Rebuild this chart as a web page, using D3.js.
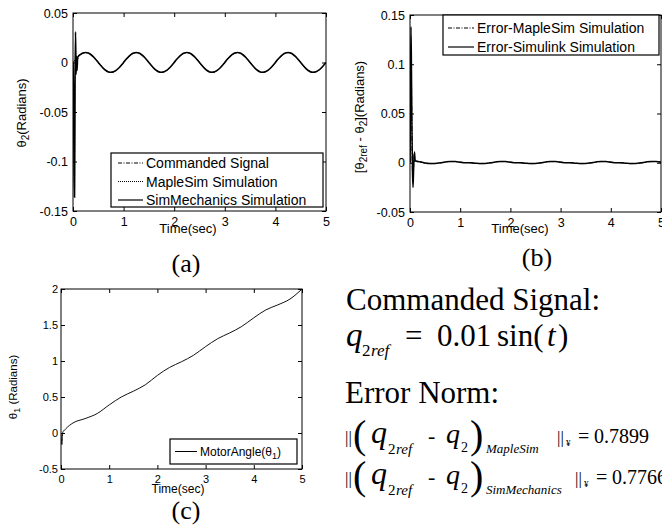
<!DOCTYPE html>
<html><head><meta charset="utf-8">
<script src="https://cdn.jsdelivr.net/npm/d3@7"></script>
<style>body{margin:0;background:#fff} svg{display:block}</style>
</head><body><svg id="c" width="662" height="525"></svg>
<script>
// ---------------- DATA ----------------
const xTicks = [0, 1, 2, 3, 4, 5];
const xTickLabels = ["0", "1", "2", "3", "4", "5"];
const yTicksA = [0.05, 0, -0.05, -0.1, -0.15];
const yTickLabelsA = ["0.05", "0", "-0.05", "-0.1", "-0.15"];
const yTicksB = [0.15, 0.1, 0.05, 0, -0.05];
const yTickLabelsB = ["0.15", "0.1", "0.05", "0", "-0.05"];
const yTicksC = [2, 1.5, 1, 0.5, 0, -0.5];
const yTickLabelsC = ["2", "1.5", "1", "0.5", "0", "-0.5"];
const legendA = ["Commanded Signal", "MapleSim Simulation", "SimMechanics Simulation"];
const legendB = ["Error-MapleSim Simulation", "Error-Simulink Simulation"];
const legendC = ["MotorAngle(θ", "1", ")"];

// time grid for panel (a)
const timeA = [0,0.01,0.02,0.03,0.04,0.05,0.06,0.07,0.08,0.09,0.1,
 0.15,0.2,0.25,0.3,0.35,0.4,0.45,0.5,0.55,0.6,0.65,0.7,0.75,0.8,0.85,0.9,0.95,1.0,1.05,1.1,
 1.15,1.2,1.25,1.3,1.35,1.4,1.45,1.5,1.55,1.6,1.65,1.7,1.75,1.8,1.85,1.9,1.95,2.0,2.05,2.1,
 2.15,2.2,2.25,2.3,2.35,2.4,2.45,2.5,2.55,2.6,2.65,2.7,2.75,2.8,2.85,2.9,2.95,3.0,3.05,3.1,
 3.15,3.2,3.25,3.3,3.35,3.4,3.45,3.5,3.55,3.6,3.65,3.7,3.75,3.8,3.85,3.9,3.95,4.0,4.05,4.1,
 4.15,4.2,4.25,4.3,4.35,4.4,4.45,4.5,4.55,4.6,4.65,4.7,4.75,4.8,4.85,4.9,4.95,5.0];
const commanded = [0,0.0006,0.0013,0.0019,0.0025,0.0031,0.0037,0.0043,0.0048,0.0054,0.0059,
 0.0081,0.0095,0.0100,0.0095,0.0081,0.0059,0.0031,0.0000,-0.0031,-0.0059,-0.0081,-0.0095,-0.0100,-0.0095,-0.0081,-0.0059,-0.0031,0.0000,0.0031,0.0059,
 0.0081,0.0095,0.0100,0.0095,0.0081,0.0059,0.0031,0.0000,-0.0031,-0.0059,-0.0081,-0.0095,-0.0100,-0.0095,-0.0081,-0.0059,-0.0031,0.0000,0.0031,0.0059,
 0.0081,0.0095,0.0100,0.0095,0.0081,0.0059,0.0031,0.0000,-0.0031,-0.0059,-0.0081,-0.0095,-0.0100,-0.0095,-0.0081,-0.0059,-0.0031,0.0000,0.0031,0.0059,
 0.0081,0.0095,0.0100,0.0095,0.0081,0.0059,0.0031,0.0000,-0.0031,-0.0059,-0.0081,-0.0095,-0.0100,-0.0095,-0.0081,-0.0059,-0.0031,0.0000,0.0031,0.0059,
 0.0081,0.0095,0.0100,0.0095,0.0081,0.0059,0.0031,0.0000,-0.0031,-0.0059,-0.0081,-0.0095,-0.0100,-0.0095,-0.0081,-0.0059,-0.0031,0.0000];
const mapleSim = [0,-0.04,-0.12,-0.134,-0.05,0.012,0.004,-0.006,0.006,0.002,0.005,
 0.0080,0.0095,0.0101,0.0096,0.0082,0.0060,0.0032,0.0001,-0.0030,-0.0058,-0.0080,-0.0094,-0.0099,-0.0095,-0.0081,-0.0059,-0.0031,0.0000,0.0031,0.0059,
 0.0080,0.0095,0.0101,0.0096,0.0082,0.0060,0.0032,0.0001,-0.0030,-0.0058,-0.0080,-0.0094,-0.0099,-0.0095,-0.0081,-0.0059,-0.0031,0.0000,0.0031,0.0059,
 0.0080,0.0095,0.0101,0.0096,0.0082,0.0060,0.0032,0.0001,-0.0030,-0.0058,-0.0080,-0.0094,-0.0099,-0.0095,-0.0081,-0.0059,-0.0031,0.0000,0.0031,0.0059,
 0.0080,0.0095,0.0101,0.0096,0.0082,0.0060,0.0032,0.0001,-0.0030,-0.0058,-0.0080,-0.0094,-0.0099,-0.0095,-0.0081,-0.0059,-0.0031,0.0000,0.0031,0.0059,
 0.0080,0.0095,0.0101,0.0096,0.0082,0.0060,0.0032,0.0001,-0.0030,-0.0058,-0.0080,-0.0094,-0.0099,-0.0095,-0.0081,-0.0059,-0.0031,0.0000];
const simMechanics = [0,-0.03,-0.10,-0.136,-0.02,0.031,-0.012,0.006,-0.008,0.004,0.006,
 0.0082,0.0096,0.0101,0.0096,0.0081,0.0059,0.0031,0.0000,-0.0031,-0.0059,-0.0081,-0.0095,-0.0099,-0.0094,-0.0080,-0.0058,-0.0030,0.0001,0.0032,0.0060,
 0.0082,0.0096,0.0101,0.0096,0.0081,0.0059,0.0031,0.0000,-0.0031,-0.0059,-0.0081,-0.0095,-0.0099,-0.0094,-0.0080,-0.0058,-0.0030,0.0001,0.0032,0.0060,
 0.0082,0.0096,0.0101,0.0096,0.0081,0.0059,0.0031,0.0000,-0.0031,-0.0059,-0.0081,-0.0095,-0.0099,-0.0094,-0.0080,-0.0058,-0.0030,0.0001,0.0032,0.0060,
 0.0082,0.0096,0.0101,0.0096,0.0081,0.0059,0.0031,0.0000,-0.0031,-0.0059,-0.0081,-0.0095,-0.0099,-0.0094,-0.0080,-0.0058,-0.0030,0.0001,0.0032,0.0060,
 0.0082,0.0096,0.0101,0.0096,0.0081,0.0059,0.0031,0.0000,-0.0031,-0.0059,-0.0081,-0.0095,-0.0099,-0.0094,-0.0080,-0.0058,-0.0030,0.0001];

// time grid for panel (b)
const timeB = [0,0.01,0.02,0.03,0.04,0.05,0.06,0.07,0.08,0.09,0.1,
 0.2,0.3,0.4,0.5,0.6,0.7,0.8,0.9,1.0,1.1,
 1.2,1.3,1.4,1.5,1.6,1.7,1.8,1.9,2.0,2.1,
 2.2,2.3,2.4,2.5,2.6,2.7,2.8,2.9,3.0,3.1,
 3.2,3.3,3.4,3.5,3.6,3.7,3.8,3.9,4.0,4.1,
 4.2,4.3,4.4,4.5,4.6,4.7,4.8,4.9,5.0];
const errorMapleSim = [0,0.05,0.105,0.08,0.02,-0.012,-0.02,-0.006,0.006,0.010,0.001,
 0.0008,-0.0004,-0.0009,-0.0008,-0.0002,0.0006,0.0012,0.0012,0.0007,0.0001,
 0.0000,-0.0005,-0.0009,-0.0008,-0.0002,0.0006,0.0012,0.0012,0.0007,0.0001,
 0.0000,-0.0005,-0.0009,-0.0008,-0.0002,0.0006,0.0012,0.0012,0.0007,0.0001,
 0.0000,-0.0005,-0.0009,-0.0008,-0.0002,0.0006,0.0012,0.0012,0.0007,0.0001,
 0.0000,-0.0005,-0.0009,-0.0008,-0.0002,0.0006,0.0012,0.0012,0.0007];
const errorSimulink = [0,0.07,0.138,0.09,0.03,-0.01,-0.025,-0.01,0.004,0.011,0.002,
 0.0010,-0.0003,-0.0008,-0.0007,-0.0001,0.0007,0.0013,0.0012,0.0006,0.0000,
 0.0001,-0.0004,-0.0008,-0.0007,-0.0001,0.0007,0.0013,0.0012,0.0006,0.0000,
 0.0001,-0.0004,-0.0008,-0.0007,-0.0001,0.0007,0.0013,0.0012,0.0006,0.0000,
 0.0001,-0.0004,-0.0008,-0.0007,-0.0001,0.0007,0.0013,0.0012,0.0006,0.0000,
 0.0001,-0.0004,-0.0008,-0.0007,-0.0001,0.0007,0.0013,0.0012,0.0006];

// panel (c)
const timeC = [0,0.01,0.02,0.03,0.04,0.06,0.1,0.25,0.5,0.75,1.0,1.25,1.5,1.75,2.0,2.25,2.5,2.75,3.0,3.25,3.5,3.75,4.0,4.25,4.5,4.75,5.0];
const motorAngle = [0,-0.12,-0.16,-0.05,0.02,0.03,0.06,0.14,0.20,0.27,0.39,0.50,0.58,0.67,0.80,0.91,0.99,1.08,1.20,1.31,1.39,1.48,1.60,1.71,1.78,1.86,2.00];

// ---------------- DRAW ----------------
const svg = d3.select("#c");
svg.append("rect").attr("width", 662).attr("height", 525).attr("fill", "#fff");
const SANS = "'Liberation Sans', Arial, sans-serif";
const SERIF = "'Liberation Serif', 'Times New Roman', serif";

function panel(o) {
  const w = o.x1 - o.x0, h = o.y1 - o.y0;
  const g = svg.append("g").attr("transform", `translate(${o.x0},${o.y0})`);
  const x = d3.scaleLinear().domain([0, 5]).range([0, w]);
  const y = d3.scaleLinear().domain(o.yDomain).range([h, 0]);
  const clipId = "clip" + o.id;
  g.append("clipPath").attr("id", clipId).append("rect").attr("width", w).attr("height", h);
  const pg = g.append("g").attr("clip-path", `url(#${clipId})`);
  o.series.forEach(s => {
    const line = d3.line().x((d, i) => x(s.t[i])).y(d => y(d)).curve(d3.curveMonotoneX);
    pg.append("path").datum(s.v).attr("d", line)
      .attr("fill", "none").attr("stroke", s.color || "#000")
      .attr("stroke-width", s.w).attr("stroke-dasharray", s.dash || null);
  });
  g.append("rect").attr("width", w).attr("height", h).attr("fill", "none").attr("stroke", "#000").attr("stroke-width", 1);
  const style = a => {
    a.select(".domain").remove();
    a.attr("font-family", SANS).attr("font-size", o.fs);
    a.selectAll("line").attr("stroke", "#000");
    a.selectAll("text").attr("fill", "#000");
  };
  g.append("g").attr("transform", `translate(0,${h})`)
    .call(d3.axisBottom(x).tickValues(xTicks).tickSizeInner(-4).tickSizeOuter(0).tickPadding(o.xPad).tickFormat((d, i) => xTickLabels[i]))
    .call(style);
  g.append("g")
    .call(d3.axisTop(x).tickValues(xTicks).tickSizeInner(-4).tickSizeOuter(0).tickFormat(""))
    .call(style);
  g.append("g")
    .call(d3.axisLeft(y).tickValues(o.yTicks).tickSizeInner(-4).tickSizeOuter(0).tickPadding(o.yPad).tickFormat((d, i) => o.yLabels[i]))
    .call(style);
  g.append("g").attr("transform", `translate(${w},0)`)
    .call(d3.axisRight(y).tickValues(o.yTicks).tickSizeInner(-4).tickSizeOuter(0).tickFormat(""))
    .call(style);
  // legend
  const L = o.legend;
  const lg = g.append("g").attr("transform", `translate(${L.x - o.x0},${L.y - o.y0})`);
  lg.append("rect").attr("width", L.w).attr("height", L.h).attr("fill", "#fff").attr("stroke", "#000").attr("stroke-width", 1.2);
  L.items.forEach((it, i) => {
    const cy = L.first + i * L.step;
    lg.append("line").attr("x1", L.lx0).attr("x2", L.lx1).attr("y1", cy).attr("y2", cy)
      .attr("stroke", "#000").attr("stroke-width", it.w).attr("stroke-dasharray", it.dash || null);
    const t = lg.append("text").attr("x", L.tx).attr("y", cy).attr("dy", "0.36em")
      .attr("font-family", SANS).attr("font-size", L.fs).attr("fill", "#000");
    it.label(t);
  });
  return {g, x, y};
}

// Panel (a)
panel({
  id: "a", x0: 73, x1: 326, y0: 13, y1: 211, yDomain: [-0.15, 0.05],
  yTicks: yTicksA, yLabels: yTickLabelsA, fs: 12.5, xPad: 6, yPad: 5,
  series: [
    {t: timeA, v: commanded, w: 1, dash: "5,2,1,2"},
    {t: timeA, v: mapleSim, w: 1, dash: "1,1.2", color: "#333"},
    {t: timeA, v: simMechanics, w: 1.6}
  ],
  legend: {x: 111, y: 153, w: 212, h: 54, first: 10, step: 18.5, lx0: 7, lx1: 32, tx: 35, fs: 14,
    items: [
      {w: 1, dash: "4,1.5,1,1.5", label: t => t.text(legendA[0])},
      {w: 1, dash: "1,1", label: t => t.text(legendA[1])},
      {w: 1.2, label: t => t.text(legendA[2])}
    ]}
});

// Panel (b)
panel({
  id: "b", x0: 410, x1: 661, y0: 15, y1: 212, yDomain: [-0.05, 0.15],
  yTicks: yTicksB, yLabels: yTickLabelsB, fs: 12.5, xPad: 6, yPad: 5,
  series: [
    {t: timeB, v: errorMapleSim, w: 1, dash: "5,2,1,2"},
    {t: timeB, v: errorSimulink, w: 1.5}
  ],
  legend: {x: 443, y: 15, w: 216, h: 40, first: 13, step: 19, lx0: 5, lx1: 31, tx: 34, fs: 14,
    items: [
      {w: 1, dash: "4,1.5,1,1.5", label: t => t.text(legendB[0])},
      {w: 1.2, label: t => t.text(legendB[1])}
    ]}
});

// Panel (c)
panel({
  id: "c", x0: 61, x1: 302, y0: 289, y1: 469, yDomain: [-0.5, 2],
  yTicks: yTicksC, yLabels: yTickLabelsC, fs: 11, xPad: 6, yPad: 3,
  series: [
    {t: timeC, v: motorAngle, w: 1, color: "#111"}
  ],
  legend: {x: 170, y: 439, w: 127, h: 25, first: 12.5, step: 0, lx0: 5, lx1: 27, tx: 30, fs: 12,
    items: [
      {w: 1, label: t => { t.append("tspan").text(legendC[0]);
        t.append("tspan").attr("dy", 3).attr("font-size", 9).text(legendC[1]);
        t.append("tspan").attr("dy", -3).text(legendC[2]); }}
    ]}
});

// axis titles
function xTitle(cx, y, fs) {
  svg.append("text").attr("x", cx).attr("y", y).attr("text-anchor", "middle")
    .attr("font-family", SANS).attr("font-size", fs).text("Time(sec)");
}
xTitle(188, 233, 13);
xTitle(520, 233, 13);
xTitle(178, 493, 12);

function yTitle(cx, cy, fs, parts) {
  const t = svg.append("text").attr("transform", `translate(${cx},${cy}) rotate(-90)`)
    .attr("text-anchor", "middle").attr("font-family", SANS).attr("font-size", fs);
  parts.forEach(p => {
    const s = t.append("tspan").text(p[0]);
    if (p[1]) s.attr("dy", p[1]);
    if (p[2]) s.attr("font-size", p[2]);
  });
}
yTitle(26, 113, 13, [["θ"], ["2", 3, 10], ["(Radians)", -3]]);
yTitle(364, 117, 13, [["[θ"], ["2ref", 3, 10], [" - θ", -3], ["2", 3, 10], ["](Radians)", -3]]);
yTitle(17, 387, 11.5, [["θ"], ["1", 3, 9], [" (Radians)", -3]]);

// sub-figure labels
function cap(txt, cx, y) {
  svg.append("text").attr("x", cx).attr("y", y).attr("text-anchor", "middle")
    .attr("font-family", SERIF).attr("font-size", 26).text(txt);
}
cap("(a)", 186, 272);
cap("(b)", 537, 266);
cap("(c)", 186, 519);

// equation block: pieces placed at explicit x positions
function piece(x, y, s, fs, it) {
  svg.append("text").attr("x", x).attr("y", y).attr("font-family", SERIF)
    .attr("font-size", fs).attr("font-style", it ? "italic" : "normal").attr("fill", "#000").text(s);
}
piece(346, 310, "Commanded Signal:", 31);
piece(346, 346, "q", 33, 1);
piece(362, 356, "2", 17); piece(371, 356, "ref", 17, 1);
piece(405, 346, "=", 31);
piece(437, 346, "0.01", 31);
piece(497, 346, "sin(", 31);
piece(547, 346, "t", 31, 1);
piece(558, 346, ")", 31);
piece(345, 403, "Error Norm:", 31);

function normLine(y, name, val, shift) {
  piece(345, y, "||", 17);
  piece(353, y + 5, "(", 40);
  piece(371, y, "q", 32, 1);
  piece(388, y + 11, "2", 15); piece(396, y + 11, "ref", 15, 1);
  piece(428, y, "-", 22);
  piece(446, y, "q", 28, 1);
  piece(461, y + 9, "2", 14);
  piece(470, y + 5, ")", 40);
  piece(486, y + 10, name, 13, 1);
  piece(557 + shift, y, "||", 17);
  piece(566 + shift, y + 3, "¥", 9);
  piece(578 + shift, y, "=", 20);
  piece(594 + shift, y, val, 20);
}
normLine(443, "MapleSim", "0.7899", 0);
normLine(484, "SimMechanics", "0.7766", 18);
</script>
</body></html>
